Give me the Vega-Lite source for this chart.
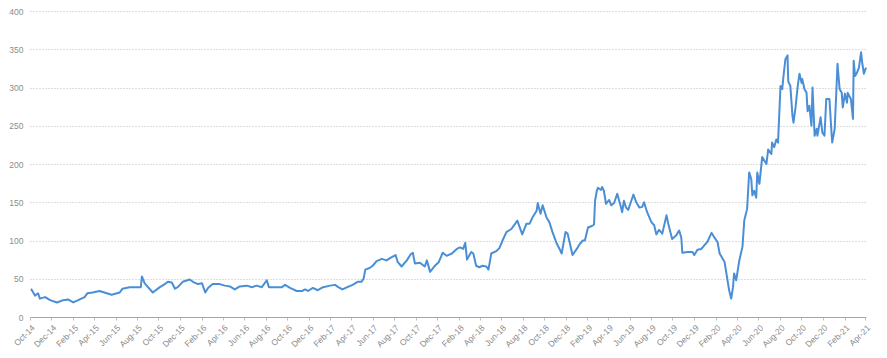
{
"$schema": "https://vega.github.io/schema/vega-lite/v6.json",
"width": 836, "height": 306,
"autosize": {"type": "none"},
"padding": {"left": 30, "top": 11, "right": 21, "bottom": 41},
"background": "white",
"config": {"view": {"stroke": null}, "font": "Liberation Sans"},
"data": {"values": [
{"date":"2014-10-04","value":37},{"date":"2014-10-15","value":28},{"date":"2014-10-24","value":31},{"date":"2014-10-29","value":24},
{"date":"2014-11-13","value":26},{"date":"2014-11-27","value":22},{"date":"2014-12-17","value":19},{"date":"2015-01-03","value":22},
{"date":"2015-01-17","value":23},{"date":"2015-02-01","value":19},{"date":"2015-02-15","value":22},{"date":"2015-03-05","value":26},
{"date":"2015-03-13","value":31},{"date":"2015-03-28","value":32},{"date":"2015-04-17","value":34},{"date":"2015-05-07","value":31},
{"date":"2015-05-21","value":29},{"date":"2015-06-13","value":32},{"date":"2015-06-21","value":37},{"date":"2015-07-11","value":39},
{"date":"2015-07-31","value":39},{"date":"2015-08-12","value":39},{"date":"2015-08-15","value":53},{"date":"2015-08-23","value":44},
{"date":"2015-09-15","value":32},{"date":"2015-10-05","value":39},{"date":"2015-10-19","value":43},{"date":"2015-10-28","value":46},
{"date":"2015-11-08","value":45},{"date":"2015-11-17","value":37},{"date":"2015-11-25","value":39},{"date":"2015-12-09","value":46},
{"date":"2015-12-29","value":49},{"date":"2016-01-07","value":46},{"date":"2016-01-21","value":43},{"date":"2016-02-02","value":44},
{"date":"2016-02-11","value":32},{"date":"2016-02-19","value":38},{"date":"2016-03-03","value":43},{"date":"2016-03-23","value":43},
{"date":"2016-04-07","value":41},{"date":"2016-04-21","value":40},{"date":"2016-05-05","value":36},{"date":"2016-05-19","value":40},
{"date":"2016-06-08","value":41},{"date":"2016-06-23","value":39},{"date":"2016-07-06","value":41},{"date":"2016-07-21","value":39},
{"date":"2016-08-04","value":48},{"date":"2016-08-10","value":39},{"date":"2016-08-27","value":39},{"date":"2016-09-16","value":39},
{"date":"2016-09-25","value":42},{"date":"2016-10-09","value":38},{"date":"2016-10-28","value":34},{"date":"2016-11-12","value":34},
{"date":"2016-11-21","value":36},{"date":"2016-11-29","value":34},{"date":"2016-12-13","value":38},{"date":"2016-12-27","value":35},
{"date":"2017-01-11","value":39},{"date":"2017-01-31","value":41},{"date":"2017-02-14","value":42},{"date":"2017-02-23","value":39},
{"date":"2017-03-07","value":36},{"date":"2017-03-21","value":39},{"date":"2017-04-05","value":42},{"date":"2017-04-19","value":46},
{"date":"2017-04-30","value":46},{"date":"2017-05-06","value":50},{"date":"2017-05-11","value":62},{"date":"2017-05-23","value":64},
{"date":"2017-06-01","value":67},{"date":"2017-06-12","value":73},{"date":"2017-06-27","value":76},{"date":"2017-07-10","value":74},
{"date":"2017-07-24","value":78},{"date":"2017-08-05","value":81},{"date":"2017-08-11","value":72},{"date":"2017-08-22","value":66},
{"date":"2017-09-06","value":74},{"date":"2017-09-17","value":82},{"date":"2017-09-23","value":84},{"date":"2017-09-29","value":70},
{"date":"2017-10-13","value":71},{"date":"2017-10-27","value":66},{"date":"2017-11-02","value":74},{"date":"2017-11-11","value":59},
{"date":"2017-11-25","value":67},{"date":"2017-12-06","value":72},{"date":"2017-12-17","value":84},{"date":"2017-12-28","value":80},
{"date":"2018-01-12","value":83},{"date":"2018-01-26","value":89},{"date":"2018-02-04","value":91},{"date":"2018-02-13","value":89},
{"date":"2018-02-19","value":97},{"date":"2018-02-24","value":75},{"date":"2018-03-08","value":85},{"date":"2018-03-14","value":83},
{"date":"2018-03-22","value":67},{"date":"2018-03-31","value":65},{"date":"2018-04-09","value":67},{"date":"2018-04-20","value":66},
{"date":"2018-04-26","value":62},{"date":"2018-05-04","value":83},{"date":"2018-05-18","value":86},{"date":"2018-05-27","value":90},
{"date":"2018-06-05","value":100},{"date":"2018-06-16","value":111},{"date":"2018-06-30","value":115},{"date":"2018-07-08","value":120},
{"date":"2018-07-17","value":126},{"date":"2018-07-31","value":108},{"date":"2018-08-12","value":122},{"date":"2018-08-21","value":122},
{"date":"2018-08-29","value":130},{"date":"2018-09-10","value":139},{"date":"2018-09-13","value":149},{"date":"2018-09-21","value":135},
{"date":"2018-09-27","value":146},{"date":"2018-10-08","value":130},{"date":"2018-10-16","value":124},{"date":"2018-10-25","value":111},
{"date":"2018-11-06","value":96},{"date":"2018-11-14","value":89},{"date":"2018-11-20","value":83},{"date":"2018-12-01","value":111},
{"date":"2018-12-07","value":109},{"date":"2018-12-18","value":87},{"date":"2018-12-21","value":81},{"date":"2019-01-02","value":89},
{"date":"2019-01-10","value":95},{"date":"2019-01-19","value":100},{"date":"2019-01-25","value":100},{"date":"2019-02-03","value":117},
{"date":"2019-02-14","value":119},{"date":"2019-02-20","value":121},{"date":"2019-02-23","value":152},{"date":"2019-02-28","value":165},
{"date":"2019-03-03","value":169},{"date":"2019-03-12","value":166},{"date":"2019-03-15","value":170},{"date":"2019-03-20","value":165},
{"date":"2019-03-26","value":148},{"date":"2019-04-04","value":153},{"date":"2019-04-10","value":146},{"date":"2019-04-18","value":149},
{"date":"2019-04-27","value":161},{"date":"2019-05-05","value":148},{"date":"2019-05-11","value":137},{"date":"2019-05-16","value":152},
{"date":"2019-05-22","value":143},{"date":"2019-05-28","value":140},{"date":"2019-06-06","value":152},{"date":"2019-06-12","value":160},
{"date":"2019-06-20","value":150},{"date":"2019-06-29","value":143},{"date":"2019-07-07","value":144},{"date":"2019-07-12","value":150},
{"date":"2019-07-21","value":137},{"date":"2019-08-02","value":124},{"date":"2019-08-10","value":120},{"date":"2019-08-16","value":108},
{"date":"2019-08-24","value":114},{"date":"2019-09-02","value":109},{"date":"2019-09-14","value":133},{"date":"2019-09-19","value":122},
{"date":"2019-09-30","value":102},{"date":"2019-10-12","value":107},{"date":"2019-10-20","value":113},{"date":"2019-10-26","value":104},
{"date":"2019-10-29","value":84},{"date":"2019-11-13","value":85},{"date":"2019-11-27","value":85},{"date":"2019-12-02","value":81},
{"date":"2019-12-11","value":88},{"date":"2019-12-22","value":89},{"date":"2019-12-31","value":94},{"date":"2020-01-08","value":98},
{"date":"2020-01-20","value":110},{"date":"2020-01-28","value":104},{"date":"2020-02-06","value":98},{"date":"2020-02-12","value":83},
{"date":"2020-02-26","value":72},{"date":"2020-03-04","value":52},{"date":"2020-03-10","value":35},{"date":"2020-03-16","value":24},
{"date":"2020-03-21","value":39},{"date":"2020-03-24","value":57},{"date":"2020-03-30","value":48},{"date":"2020-04-08","value":74},
{"date":"2020-04-17","value":92},{"date":"2020-04-22","value":126},{"date":"2020-04-30","value":141},{"date":"2020-05-06","value":189},
{"date":"2020-05-12","value":180},{"date":"2020-05-15","value":159},{"date":"2020-05-20","value":165},{"date":"2020-05-26","value":156},
{"date":"2020-05-29","value":189},{"date":"2020-06-04","value":174},{"date":"2020-06-12","value":209},{"date":"2020-06-24","value":200},
{"date":"2020-06-29","value":219},{"date":"2020-07-08","value":213},{"date":"2020-07-10","value":228},{"date":"2020-07-16","value":222},
{"date":"2020-07-22","value":232},{"date":"2020-07-27","value":228},{"date":"2020-08-03","value":302},{"date":"2020-08-08","value":298},
{"date":"2020-08-11","value":313},{"date":"2020-08-17","value":337},{"date":"2020-08-23","value":342},{"date":"2020-08-25","value":308},
{"date":"2020-08-31","value":302},{"date":"2020-09-06","value":263},{"date":"2020-09-09","value":254},{"date":"2020-09-15","value":275},
{"date":"2020-09-21","value":302},{"date":"2020-09-26","value":318},{"date":"2020-10-02","value":306},{"date":"2020-10-04","value":311},
{"date":"2020-10-10","value":298},{"date":"2020-10-16","value":293},{"date":"2020-10-19","value":269},{"date":"2020-10-24","value":276},
{"date":"2020-10-30","value":250},{"date":"2020-11-02","value":300},{"date":"2020-11-08","value":237},{"date":"2020-11-14","value":246},
{"date":"2020-11-16","value":237},{"date":"2020-11-25","value":261},{"date":"2020-11-30","value":241},{"date":"2020-12-06","value":237},
{"date":"2020-12-11","value":285},{"date":"2020-12-20","value":285},{"date":"2020-12-26","value":241},{"date":"2020-12-28","value":228},
{"date":"2021-01-04","value":246},{"date":"2021-01-09","value":298},{"date":"2021-01-12","value":331},{"date":"2021-01-18","value":298},
{"date":"2021-01-24","value":293},{"date":"2021-01-27","value":274},{"date":"2021-02-02","value":292},{"date":"2021-02-08","value":280},
{"date":"2021-02-10","value":293},{"date":"2021-02-19","value":285},{"date":"2021-02-25","value":259},{"date":"2021-02-27","value":335},
{"date":"2021-03-03","value":315},{"date":"2021-03-08","value":319},{"date":"2021-03-14","value":326},{"date":"2021-03-20","value":346},
{"date":"2021-03-23","value":333},{"date":"2021-03-28","value":318},{"date":"2021-04-03","value":326}
]},
"mark": {"type": "line", "color": "#4a8fd6", "strokeWidth": 2, "strokeJoin": "round"},
"encoding": {
"x": {"field": "date", "type": "temporal",
 "scale": {"type": "utc", "domain": [{"year":2014,"month":10,"date":1,"utc":true},{"year":2021,"month":4,"date":3,"utc":true}]},
 "axis": {"title": null, "grid": false,
  "values": [
   {"year":2014,"month":10,"date":1,"utc":true},{"year":2014,"month":12,"date":1,"utc":true},
   {"year":2015,"month":2,"date":1,"utc":true},{"year":2015,"month":4,"date":1,"utc":true},{"year":2015,"month":6,"date":1,"utc":true},{"year":2015,"month":8,"date":1,"utc":true},{"year":2015,"month":10,"date":1,"utc":true},{"year":2015,"month":12,"date":1,"utc":true},
   {"year":2016,"month":2,"date":1,"utc":true},{"year":2016,"month":4,"date":1,"utc":true},{"year":2016,"month":6,"date":1,"utc":true},{"year":2016,"month":8,"date":1,"utc":true},{"year":2016,"month":10,"date":1,"utc":true},{"year":2016,"month":12,"date":1,"utc":true},
   {"year":2017,"month":2,"date":1,"utc":true},{"year":2017,"month":4,"date":1,"utc":true},{"year":2017,"month":6,"date":1,"utc":true},{"year":2017,"month":8,"date":1,"utc":true},{"year":2017,"month":10,"date":1,"utc":true},{"year":2017,"month":12,"date":1,"utc":true},
   {"year":2018,"month":2,"date":1,"utc":true},{"year":2018,"month":4,"date":1,"utc":true},{"year":2018,"month":6,"date":1,"utc":true},{"year":2018,"month":8,"date":1,"utc":true},{"year":2018,"month":10,"date":1,"utc":true},{"year":2018,"month":12,"date":1,"utc":true},
   {"year":2019,"month":2,"date":1,"utc":true},{"year":2019,"month":4,"date":1,"utc":true},{"year":2019,"month":6,"date":1,"utc":true},{"year":2019,"month":8,"date":1,"utc":true},{"year":2019,"month":10,"date":1,"utc":true},{"year":2019,"month":12,"date":1,"utc":true},
   {"year":2020,"month":2,"date":1,"utc":true},{"year":2020,"month":4,"date":1,"utc":true},{"year":2020,"month":6,"date":1,"utc":true},{"year":2020,"month":8,"date":1,"utc":true},{"year":2020,"month":10,"date":1,"utc":true},{"year":2020,"month":12,"date":1,"utc":true},
   {"year":2021,"month":2,"date":1,"utc":true},{"year":2021,"month":4,"date":1,"utc":true}
  ],
  "labelExpr": "utcFormat(datum.value, '%b-%y')",
  "labelAngle": -45, "labelFontSize": 8.5, "labelColor": "#8c8c8c",
  "labelPadding": 3, "labelOverlap": false, "labelBound": false, "labelFlush": false,
  "tickSize": 3, "tickColor": "#bfbfbf", "domainColor": "#a6a6a6"}},
"y": {"field": "value", "type": "quantitative",
 "scale": {"domain": [0, 400], "nice": false},
 "axis": {"title": null, "values": [0,50,100,150,200,250,300,350,400],
  "grid": true, "gridColor": "#bdbdbd", "gridDash": [1,2],
  "domain": false, "ticks": false, "labelPadding": 7,
  "labelFontSize": 8.5, "labelColor": "#8c8c8c"}}
}
}
